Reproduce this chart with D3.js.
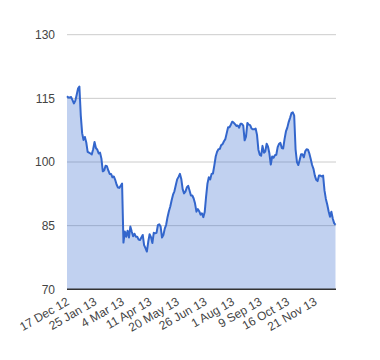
<!DOCTYPE html>
<html lang="en">
<head>
  <meta charset="UTF-8">
  <title>Area chart</title>
  <script src="https://d3js.org/d3.v7.min.js"></script>
  <style>
    body { margin: 0; background: #fff; }
    text { font-family: Arial, "Liberation Sans", sans-serif; }
  </style>
</head>
<body>
  <svg id="chart" width="380" height="360"></svg>
  <script>
    // price series, one value per step
    var values = [
      115.5, 115.2, 115.2, 115.3, 114.6, 113.8, 114.4, 115.8, 117.3, 117.8,
      111.0, 106.8, 105.2, 105.9, 104.6, 102.4, 102.2, 102.0, 101.8, 103.0,
      104.7, 103.3, 102.9, 102.0, 102.2, 100.8, 97.8, 98.0, 99.1, 99.0,
      98.0, 97.2, 97.2, 96.4, 96.6, 95.8, 94.7, 94.0, 93.9, 94.4,
      94.9, 81.0, 83.6, 82.4, 83.8, 82.2, 84.8, 83.6, 82.5, 83.1,
      82.4, 82.4, 81.7, 81.6, 82.2, 82.8, 80.4, 79.7, 78.9, 81.2,
      83.0, 82.3, 80.9, 83.3, 83.2, 83.3, 85.1, 85.3, 84.8, 82.2,
      82.8, 84.3, 85.2, 87.0, 88.4, 89.5, 91.0, 92.3, 93.1, 94.5,
      95.9, 96.5, 97.2, 96.0, 93.6, 92.6, 93.0, 94.0, 94.4, 93.3,
      92.1, 92.1, 91.4, 90.2, 88.3, 88.9, 88.4, 87.6, 87.9, 87.0,
      88.2, 91.8, 94.9, 96.4, 95.9, 97.2, 97.3, 99.2, 101.3, 102.4,
      103.0, 103.1, 104.0, 104.2, 104.9, 105.4, 106.8, 108.2, 108.2, 108.8,
      109.5, 109.3, 108.9, 108.5, 108.6, 108.1, 109.0, 109.0, 108.6, 105.1,
      106.0, 109.2, 108.8, 108.7, 107.9, 107.7, 107.7, 107.9, 106.4, 102.9,
      101.7, 101.5, 103.8, 102.2, 102.5, 104.3, 103.6, 102.0, 99.4, 101.3,
      101.0, 101.6, 101.7, 103.5, 104.3, 104.5, 103.3, 103.2, 105.4, 107.2,
      108.1, 109.4, 110.4, 111.5, 111.7, 110.9, 103.0, 100.0, 99.3, 100.5,
      101.8, 101.8, 101.1, 102.5, 103.0, 102.9, 102.0, 100.7, 99.3, 98.4,
      96.8, 95.8, 95.5, 96.8, 96.8, 96.6, 96.8, 93.3, 91.3, 90.0,
      88.4, 87.1, 88.3, 86.7, 85.6, 85.2
    ];

    var dateLabels = ["17 Dec 12", "25 Jan 13", "4 Mar 13", "11 Apr 13", "20 May 13",
      "26 Jun 13", "1 Aug 13", "9 Sep 13", "16 Oct 13", "21 Nov 13"];
    var labelEvery = 20;
    var yTicks = [70, 85, 100, 115, 130];

    var svg = d3.select("#chart");
    var plotLeft = 67, plotRight = 336, plotTop = 34.7, plotBottom = 289.3;

    var x = d3.scaleLinear().domain([0, values.length - 1]).range([plotLeft, plotRight - 0.5]);
    var y = d3.scaleLinear().domain([70, 130]).range([plotBottom, plotTop]);

    // gridlines
    svg.append("g")
      .selectAll("line")
      .data(yTicks.slice(1))
      .enter()
      .append("line")
      .attr("x1", plotLeft)
      .attr("x2", plotRight)
      .attr("y1", function (d) { return y(d); })
      .attr("y2", function (d) { return y(d); })
      .style("stroke", "#cccccc")
      .style("stroke-width", 1);

    // y labels
    svg.append("g")
      .selectAll("text")
      .data(yTicks)
      .enter()
      .append("text")
      .attr("x", 55)
      .attr("y", function (d) { return y(d); })
      .attr("dy", "0.35em")
      .attr("text-anchor", "end")
      .style("font-size", "12px")
      .style("fill", "#444")
      .text(function (d) { return d; });

    var area = d3.area()
      .x(function (d, i) { return x(i); })
      .y0(y(70))
      .y1(function (d) { return y(d); });

    var line = d3.line()
      .x(function (d, i) { return x(i); })
      .y(function (d) { return y(d); });

    svg.append("path")
      .datum(values)
      .attr("d", area)
      .style("fill", "#3366cc")
      .style("fill-opacity", 0.3);

    svg.append("path")
      .datum(values)
      .attr("d", line)
      .style("fill", "none")
      .style("stroke", "#3366cc")
      .style("stroke-width", 2)
      .style("stroke-linejoin", "round");

    // baseline
    svg.append("line")
      .attr("x1", plotLeft)
      .attr("x2", plotRight)
      .attr("y1", y(70))
      .attr("y2", y(70))
      .style("stroke", "#333")
      .style("stroke-width", 1.5);

    // x labels, rotated
    svg.append("g")
      .selectAll("text")
      .data(dateLabels)
      .enter()
      .append("text")
      .attr("transform", function (d, i) {
        return "translate(" + (x(i * labelEvery) + 3) + ",304)rotate(-30)";
      })
      .attr("text-anchor", "end")
      .style("font-size", "12px")
      .style("fill", "#444")
      .text(function (d) { return d; });
  </script>
</body>
</html>
